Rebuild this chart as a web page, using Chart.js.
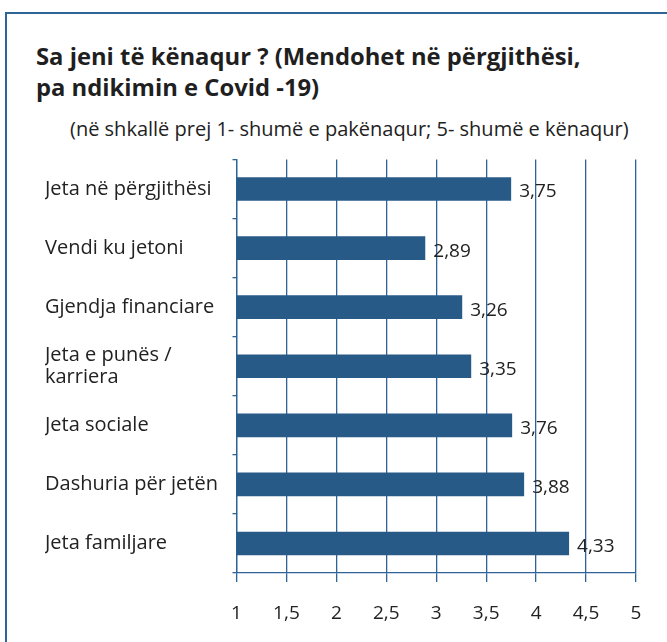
<!DOCTYPE html>
<html>
<head>
<meta charset="utf-8">
<script src="https://cdn.jsdelivr.net/npm/chart.js@4/dist/chart.umd.min.js"></script>
<style>
    html, body { margin: 0; padding: 0; background: #fff; }
    #wrap { position: relative; width: 667px; height: 642px; overflow: hidden; font-family: "Open Sans", sans-serif; color: #222; }
    #frame { position: absolute; left: 5px; top: 12px; width: 700px; height: 700px; border-top: 2px solid #2f6596; border-left: 2px solid #2f6596; }
    #title { position: absolute; left: 36px; top: 41px; font-size: 23.8px; font-weight: bold; line-height: 31px; margin: 0; color: #1f1f1f; white-space: nowrap; }
    #subtitle { position: absolute; left: 70px; top: 116px; font-size: 20px; line-height: 26px; margin: 0; color: #222; white-space: nowrap; }
    #chart { position: absolute; left: 0; top: 0; }
</style>
</head>
<body>
<div id="wrap">
    <div id="frame"></div>
    <p id="title">Sa jeni të kënaqur ? (Mendohet në përgjithësi,<br>pa ndikimin e Covid -19)</p>
    <p id="subtitle">(në shkallë prej 1- shumë e pakënaqur; 5- shumë e kënaqur)</p>
    <canvas id="chart" width="667" height="642"></canvas>
</div>
<script>
document.addEventListener('DOMContentLoaded', function() {
    // Categories (top to bottom) and average satisfaction scores
    const categories = [
        'Jeta në përgjithësi',
        'Vendi ku jetoni',
        'Gjendja financiare',
        ['Jeta e punës /', 'karriera'],
        'Jeta sociale',
        'Dashuria për jetën',
        'Jeta familjare'
    ];
    const scores = [3.75, 2.89, 3.26, 3.35, 3.76, 3.88, 4.33];

    const barColor = '#285a88';
    const gridColor = '#2f6398';

    const fmt = v => String(v).replace('.', ',');

    // Draws the value to the right of each bar
    const valueLabels = {
        id: 'valueLabels',
        afterDatasetsDraw(chart) {
            const ctx = chart.ctx;
            const meta = chart.getDatasetMeta(0);
            ctx.save();
            ctx.font = '19px "Open Sans"';
            ctx.fillStyle = '#222';
            ctx.textAlign = 'left';
            ctx.textBaseline = 'middle';
            meta.data.forEach((bar, i) => {
                ctx.fillText(fmt(scores[i].toFixed(2)), bar.x + 8, bar.y + 3);
            });
            ctx.restore();
        }
    };

    const ctx = document.getElementById('chart').getContext('2d');
    new Chart(ctx, {
        type: 'bar',
        data: {
            labels: categories,
            datasets: [{
                data: scores,
                backgroundColor: barColor,
                borderWidth: 0,
                barPercentage: 0.4,
                categoryPercentage: 1
            }]
        },
        options: {
            indexAxis: 'y',
            responsive: false,
            animation: false,
            layout: { padding: { left: 45, top: 159.5, right: 31, bottom: 0 } },
            plugins: {
                legend: { display: false },
                tooltip: { enabled: false }
            },
            scales: {
                x: {
                    min: 1,
                    max: 5,
                    ticks: {
                        stepSize: 0.5,
                        padding: 20,
                        color: '#222',
                        font: { family: 'Open Sans', size: 19 },
                        callback: v => fmt(v)
                    },
                    grid: { color: gridColor, lineWidth: 1.3, tickLength: 9, drawTicks: true },
                    border: { color: gridColor, width: 1.3 },
                    afterFit: s => { s.height = 69; }
                },
                y: {
                    offset: true,
                    ticks: {
                        crossAlign: 'far',
                        color: '#222',
                        font: { family: 'Open Sans', size: 20, lineHeight: 1.1 }
                    },
                    grid: { drawOnChartArea: false, offset: true, color: gridColor, lineWidth: 1.3, tickLength: 4 },
                    border: { color: gridColor, width: 1.3 },
                    afterFit: s => { s.width = 191.5; }
                }
            }
        },
        plugins: [valueLabels]
    });
});
</script>
</body>
</html>
